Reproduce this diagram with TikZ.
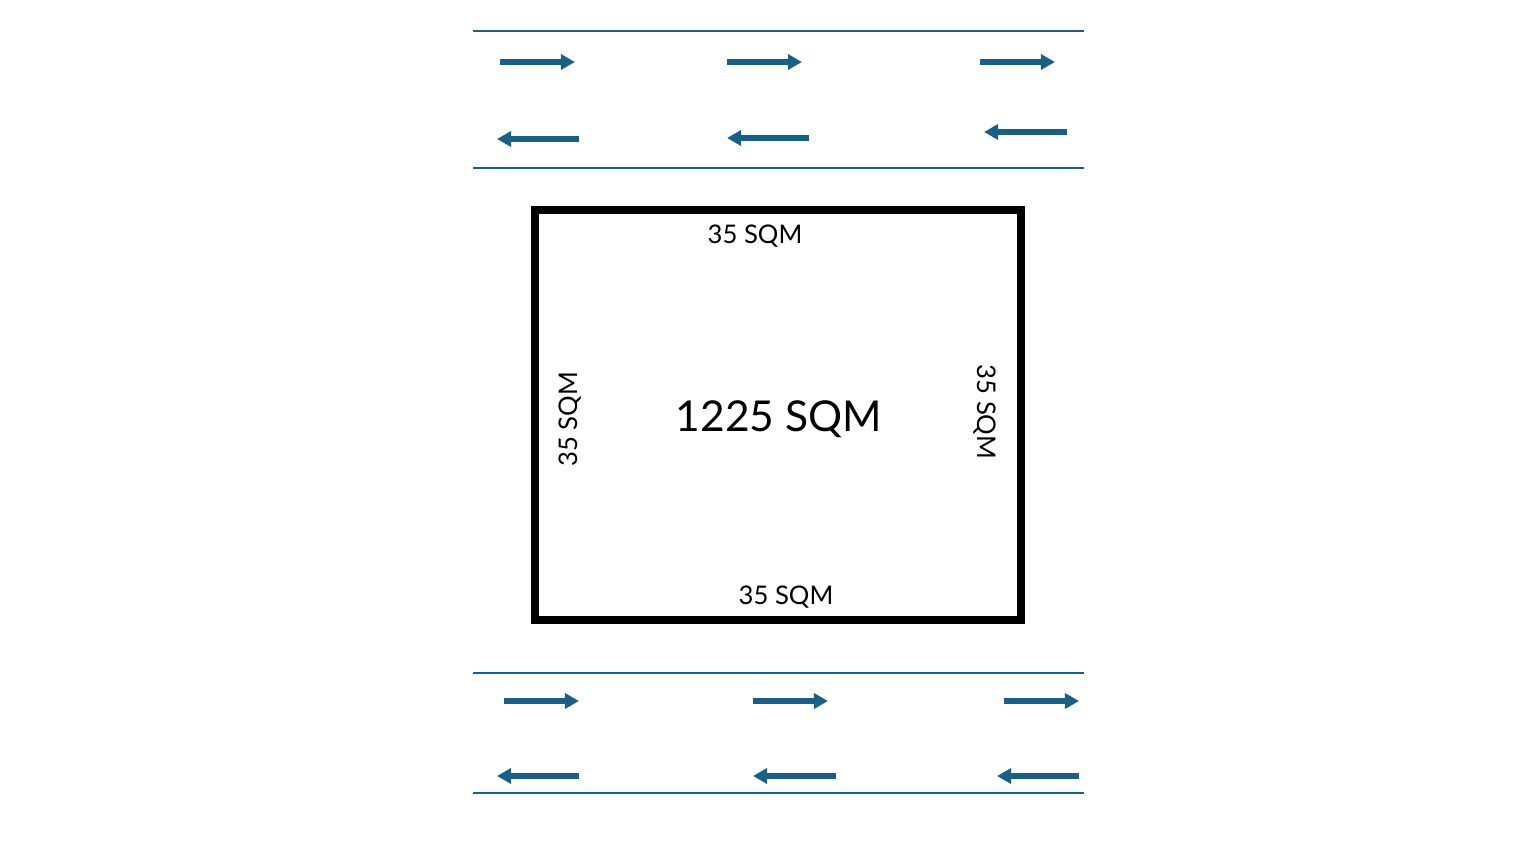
\documentclass[tikz,border=0pt]{standalone}
\usepackage{fontspec}
\setmainfont{Lato}
\usetikzlibrary{arrows.meta}
\definecolor{roadblue}{HTML}{1A5F85}
\tikzset{
  road/.style={draw=roadblue,line width=1.1pt},
  lane/.style={draw=roadblue,line width=3pt,-{Triangle[length=8pt,width=8.5pt]}},
  plot/.style={draw=black,line width=4.6pt},
  side/.style={font=\fontsize{14.6}{16}\selectfont},
}
\begin{document}
\begin{tikzpicture}[x=0.02cm,y=-0.02cm]
  \useasboundingbox (0,0) rectangle (1521,862);

  % roads
  \draw[road] (473,31) -- (1084,31);
  \draw[road] (473,168) -- (1084,168);
  \draw[road] (473,673) -- (1084,673);
  \draw[road] (473,793) -- (1084,793);

  % traffic
  \foreach \xa/\xb/\y in {500/575/62, 727/802/62, 980/1055/62,
                          579/497/139, 809/727/138, 1067/984/132,
                          504/579/701, 753/828/701, 1004/1079/701,
                          579/497/776, 836/753/776, 1079/997/776}
    \draw[lane] (\xa,\y) -- (\xb,\y);

  % plot
  \draw[plot] (535,210) rectangle (1021,620);
  \node (area) at (779,419) {\fontsize{24.2}{28}\selectfont 1225 SQM};
  \node[side] (top) at (755,236) {35 SQM};
  \node[side] (bottom) at (786,597) {35 SQM};
  \node[side,rotate=90] (left) at (570,419) {35 SQM};
  \node[side,rotate=-90] (right) at (985,412) {35 SQM};

\end{tikzpicture}
\end{document}
